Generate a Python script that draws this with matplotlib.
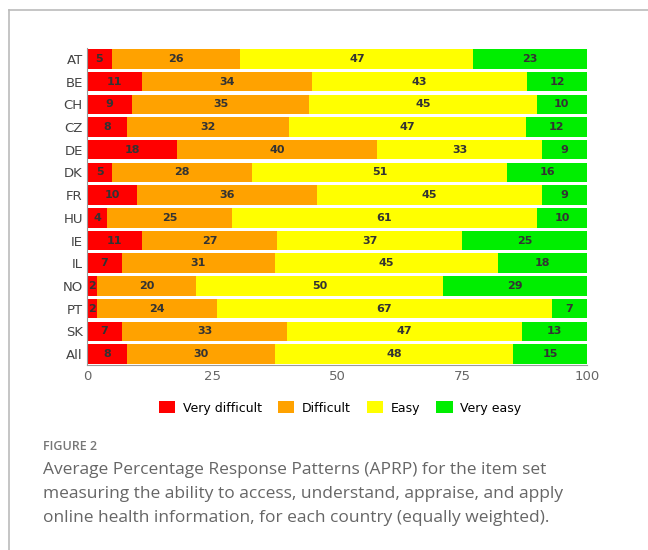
import numpy as np
import matplotlib
matplotlib.use("Agg")
import matplotlib.pyplot as plt
from matplotlib.lines import Line2D
from matplotlib.patches import Patch

# Data (rounded percentages as printed on the bars)
countries = ["AT", "BE", "CH", "CZ", "DE", "DK", "FR", "HU", "IE", "IL", "NO", "PT", "SK", "All"]
very_difficult = [5, 11, 9, 8, 18, 5, 10, 4, 11, 7, 2, 2, 7, 8]
difficult = [26, 34, 35, 32, 40, 28, 36, 25, 27, 31, 20, 24, 33, 30]
easy = [47, 43, 45, 47, 33, 51, 45, 61, 37, 45, 50, 67, 47, 48]
very_easy = [23, 12, 10, 12, 9, 16, 9, 10, 25, 18, 29, 7, 13, 15]

categories = ["Very difficult", "Difficult", "Easy", "Very easy"]
colors = ["#ff0000", "#ffa200", "#ffff00", "#00ee00"]
xticks = [0, 25, 50, 75, 100]

series = np.array([very_difficult, difficult, easy, very_easy], dtype=float)
# bars always fill to 100, so rescale the rounded values per row
shares = series / series.sum(axis=0) * 100

fig = plt.figure(figsize=(6.48, 5.5), dpi=100)
ax = fig.add_axes([0.1343, 0.3356, 0.7716, 0.578])

y = np.arange(len(countries))
left = np.zeros(len(countries))
for i, cat in enumerate(categories):
    ax.barh(y, shares[i], left=left, height=0.86, color=colors[i], label=cat, linewidth=0)
    for j in range(len(countries)):
        ax.text(left[j] + shares[i][j] / 2, y[j], f"{int(series[i][j])}",
                ha="center", va="center", fontsize=8, color="#333333",
                fontweight="bold", family="DejaVu Sans")
    left += shares[i]

ax.set_xlim(0, 100)
ax.set_ylim(len(countries) - 0.5, -0.5)
ax.set_yticks(y)
ax.set_yticklabels(countries, fontsize=9.5, color="#444444")
ax.set_xticks(xticks)
ax.set_xticklabels([str(t) for t in xticks], fontsize=9.5, color="#666666")
ax.tick_params(axis="both", length=0, pad=3)
for s in ["top", "right"]:
    ax.spines[s].set_visible(False)
for s in ["left", "bottom"]:
    ax.spines[s].set_color("#9a9a9a")
    ax.spines[s].set_linewidth(0.8)

handles = [Patch(facecolor=c, edgecolor="none") for c in colors]
fig.legend(handles, categories, loc="center", bbox_to_anchor=(0.525, 0.258),
           ncol=4, frameon=False, handlelength=1.3, handleheight=1.1,
           handletextpad=0.6, columnspacing=1.3,
           prop={"size": 9, "weight": "medium"})

# frame around the figure panel
fig.add_artist(Line2D([9 / 648, 1], [1 - 10 / 550, 1 - 10 / 550], color="#bbbbbb", lw=1.2))
fig.add_artist(Line2D([9 / 648, 9 / 648], [0, 1 - 10 / 550], color="#bbbbbb", lw=1.2))

fig.text(43 / 648, 1 - 447 / 550, "FIGURE 2", fontsize=9, color="#777777",
         va="center", family="Open Sans", fontweight="semibold")
caption = ("Average Percentage Response Patterns (APRP) for the item set\n"
           "measuring the ability to access, understand, appraise, and apply\n"
           "online health information, for each country (equally weighted).")
fig.text(43 / 648, 1 - 462 / 550, caption, fontsize=12.5, color="#666666",
         va="top", family="Open Sans", linespacing=1.68)

fig.savefig("out.png", dpi=100)
